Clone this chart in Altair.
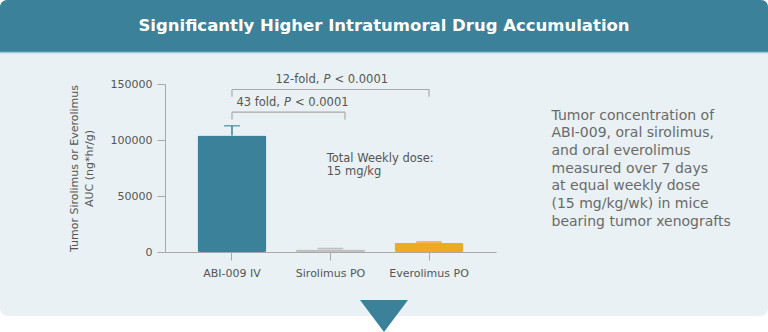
import altair as alt
import pandas as pd

# ---- data -------------------------------------------------------------
categories = ["ABI-009 IV", "Sirolimus PO", "Everolimus PO"]
means = [104000, 2200, 8200]
upper = [112700, 3750, 9640]
colors = ["#3B8199", "#C0C0C0", "#EEAB22"]
y_ticks = [0, 50000, 100000, 150000]

title_text = "Significantly Higher Intratumoral Drug Accumulation"
y_title = ["Tumor Sirolimus or Everolimus", "AUC (ng*hr/g)"]
note_lines = ["Total Weekly dose:", "15 mg/kg"]
note_y = [82600, 71000]
side_lines = [
    "Tumor concentration of",
    "ABI-009, oral sirolimus,",
    "and oral everolimus",
    "measured over 7 days",
    "at equal weekly dose",
    "(15 mg/kg/wk) in mice",
    "bearing tumor xenografts",
]
# brackets: from, to, bar level, drop level, label y, label parts
brackets = [
    dict(a="ABI-009 IV", b="Everolimus PO", bp=0.5, yb=145100, yd=138600,
         ly=153400, pre="12-fold,", post="< 0.0001", anchor="Sirolimus PO", pdx=-7),
    dict(a="ABI-009 IV", b="Sirolimus PO", bp=0.71, yb=124800, yd=118300,
         ly=132600, pre="43 fold,", post="< 0.0001", anchor="ABI-009 IV", pdx=52),
]

FONT = "DejaVu Sans"
TEAL = "#3B8199"
TXT = "#555555"
AX = "#A9A9A9"

W, H = 331, 168
PL, PT = 165, 84

df = pd.DataFrame({"drug": categories, "mean": means, "upper": upper, "color": colors})

xscale = alt.Scale(domain=categories, paddingInner=0.3, paddingOuter=0.33)
yscale = alt.Scale(domain=[0, 150000], nice=False)

one = alt.Data(values=[{"k": 1}])

# ---- decoration -------------------------------------------------------
panel = alt.Chart(one).mark_rect(color="#E9F1F4", cornerRadius=8).encode(
    x=alt.value(-PL), x2=alt.value(768 - PL), y=alt.value(40 - PT), y2=alt.value(316 - PT))
header = alt.Chart(one).mark_rect(color=TEAL, cornerRadiusTopLeft=7, cornerRadiusTopRight=7).encode(
    x=alt.value(-PL), x2=alt.value(768 - PL), y=alt.value(0 - PT), y2=alt.value(52 - PT))
header_line = alt.Chart(one).mark_rule(color="#9FC6D2", strokeWidth=1.5).encode(
    x=alt.value(-PL), x2=alt.value(768 - PL), y=alt.value(52.5 - PT))
title = alt.Chart(one).mark_text(text=title_text, color="white", font=FONT, fontSize=16.5,
                                 fontWeight="bold", align="center", baseline="middle").encode(
    x=alt.value(384 - PL), y=alt.value(26 - PT))
triangle = alt.Chart(one).mark_point(shape="M-1,-0.667 L1,-0.667 L0,0.667 Z", filled=True,
                                     opacity=1, color=TEAL, size=48 * 48, strokeWidth=0).encode(
    x=alt.value(384 - PL), y=alt.value(316 - PT))
side = alt.Chart(one).mark_text(text=side_lines, color="#6A6A6A", font=FONT, fontSize=14,
                                align="left", baseline="top", lineHeight=17.7).encode(
    x=alt.value(551.5 - PL), y=alt.value(108.5 - PT))

# ---- data marks -------------------------------------------------------
base = alt.Chart(df)
bars = base.mark_bar(cornerRadius=2).encode(
    x=alt.X("drug:N", sort=categories, scale=xscale,
            axis=alt.Axis(title=None, labelAngle=0, labelFont=FONT, labelFontSize=11,
                          labelColor=TXT, tickSize=8, tickColor=AX, domainColor=AX,
                          labelPadding=7, zindex=1)),
    y=alt.Y("mean:Q", scale=yscale,
            axis=alt.Axis(title=y_title, values=y_ticks, format="d", grid=False,
                          labelFont=FONT, labelFontSize=11, labelColor=TXT, tickSize=8,
                          tickColor=AX, domainColor=AX, labelPadding=5,
                          titleFont=FONT, titleFontSize=11, titleFontWeight="normal",
                          titleLineHeight=15,
                          titleColor=TXT, titlePadding=16, zindex=1)),
    color=alt.Color("color:N", scale=None),
)
err_main = base.transform_filter(alt.datum.drug == categories[0])
stem = err_main.mark_rule(strokeWidth=1.5).encode(
    x=alt.X("drug:N", sort=categories, scale=xscale), y="mean:Q", y2="upper:Q",
    color=alt.Color("color:N", scale=None))
cap = err_main.mark_tick(thickness=1.5, size=16).encode(
    x=alt.X("drug:N", sort=categories, scale=xscale), y="upper:Q",
    color=alt.Color("color:N", scale=None))
err_small = base.transform_filter(alt.datum.drug != categories[0]).mark_bar(
    width=26, cornerRadius=1).encode(
    x=alt.X("drug:N", sort=categories, scale=xscale), y="mean:Q", y2="upper:Q",
    color=alt.Color("color:N", scale=None))

note_df = pd.DataFrame({"t": note_lines, "y": note_y, "drug": ["Sirolimus PO"] * 2})
note = alt.Chart(note_df).mark_text(font=FONT, fontSize=11.5, color=TXT, align="left",
                                    baseline="middle").encode(
    x=alt.X("drug:N", scale=xscale, bandPosition=0.445), y=alt.Y("y:Q", scale=yscale), text="t:N")

layers = [panel, header, header_line, title, triangle, side, bars, err_small, stem, cap, note]

for br in brackets:
    bdf = pd.DataFrame([br])
    bc = alt.Chart(bdf)
    layers.append(bc.mark_rule(color=AX, strokeWidth=1.2).encode(
        x=alt.X("a:N", scale=xscale, bandPosition=0.5),
        x2=alt.X2("b", bandPosition=br["bp"]), y=alt.Y("yb:Q", scale=yscale)))
    layers.append(bc.mark_rule(color=AX, strokeWidth=1.2).encode(
        x=alt.X("a:N", scale=xscale, bandPosition=0.5), y=alt.Y("yb:Q", scale=yscale), y2="yd:Q"))
    layers.append(bc.mark_rule(color=AX, strokeWidth=1.2).encode(
        x=alt.X("b:N", scale=xscale, bandPosition=br["bp"]), y=alt.Y("yb:Q", scale=yscale), y2="yd:Q"))
    layers.append(bc.mark_text(font=FONT, fontSize=11.5, color=TXT, align="right", baseline="middle",
                               dx=br["pdx"] - 4).encode(
        x=alt.X("anchor:N", scale=xscale, bandPosition=0.5), y=alt.Y("ly:Q", scale=yscale), text="pre:N"))
    layers.append(bc.mark_text(font=FONT, fontSize=11.5, color=TXT, align="left", baseline="middle",
                               fontStyle="italic", dx=br["pdx"], text="P").encode(
        x=alt.X("anchor:N", scale=xscale, bandPosition=0.5), y=alt.Y("ly:Q", scale=yscale)))
    layers.append(bc.mark_text(font=FONT, fontSize=11.5, color=TXT, align="left", baseline="middle",
                               dx=br["pdx"] + 11).encode(
        x=alt.X("anchor:N", scale=xscale, bandPosition=0.5), y=alt.Y("ly:Q", scale=yscale), text="post:N"))

chart = alt.layer(*layers).properties(
    width=W, height=H,
    autosize=alt.AutoSizeParams(type="none"),
    padding={"left": PL, "top": PT, "right": 768 - PL - W, "bottom": 332 - PT - H},
    background="white",
).configure_view(stroke=None)

chart.save("out.html", embed_options={"renderer": "svg", "actions": False})
